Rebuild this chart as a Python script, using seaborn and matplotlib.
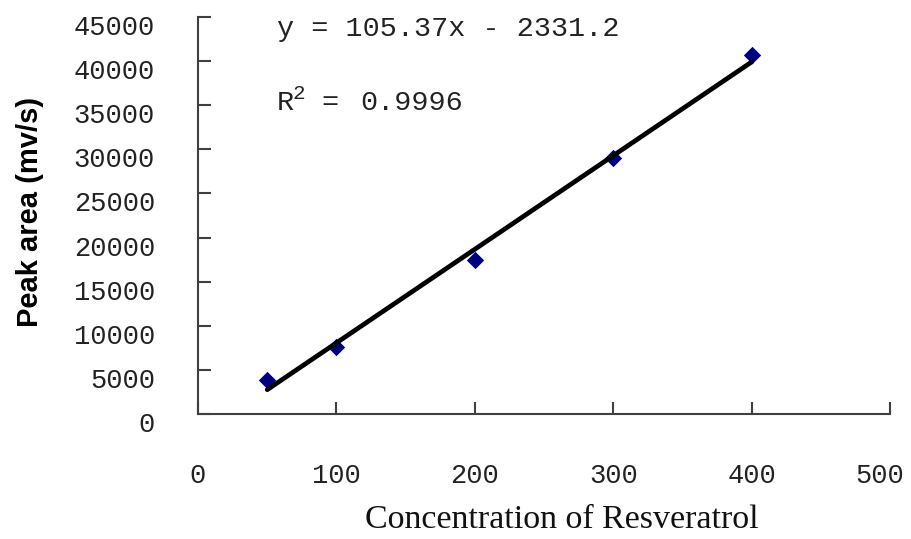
import matplotlib
matplotlib.use("Agg")
import matplotlib.pyplot as plt
import matplotlib.transforms as mtrans
import seaborn as sns
import pandas as pd

# Data
concentration = [50, 100, 200, 300, 400]
peak_area = [3900, 7630, 17460, 28990, 40690]
x_ticks = [0, 100, 200, 300, 400, 500]
y_ticks = [0, 5000, 10000, 15000, 20000, 25000, 30000, 35000, 40000, 45000]
equation_text = "y = 105.37x - 2331.2"
r2_value = "0.9996"

df = pd.DataFrame({"Concentration": concentration, "Peak area": peak_area})

sns.set_style("white")
plt.rcParams["font.family"] = ["Liberation Mono", "DejaVu Sans"]

fig = plt.figure(figsize=(9.12, 5.39), dpi=100)
ax = fig.add_axes([198 / 912, 1 - 414 / 539, (890 - 198) / 912, (414 - 17) / 539])

sns.regplot(data=df, x="Concentration", y="Peak area", ax=ax, ci=None, truncate=True,
            marker="D",
            scatter_kws={"s": 78, "color": "#000080", "linewidths": 0, "alpha": 1, "zorder": 2},
            line_kws={"color": "black", "linewidth": 3.4, "zorder": 3})

ax.set_xlim(0, 500)
ax.set_ylim(0, 45000)
ax.set_xticks(x_ticks)
ax.set_yticks(y_ticks)
ax.set_xticklabels([str(v) for v in x_ticks])
ax.set_yticklabels([str(v) for v in y_ticks])

for s in ["top", "right"]:
    ax.spines[s].set_visible(False)
for s in ["left", "bottom"]:
    ax.spines[s].set_color("#404040")
    ax.spines[s].set_linewidth(1.5)

ax.tick_params(axis="both", direction="in", length=9, width=1.5, color="#404040",
               labelsize=19.5, labelcolor="#222222", bottom=True, left=True)
ax.tick_params(axis="y", pad=31)
ax.tick_params(axis="x", pad=35)

# Slight downward shift of y tick labels as in the original
offset = mtrans.ScaledTranslation(0, -8 / 100, fig.dpi_scale_trans)
for lab in ax.get_yticklabels():
    lab.set_transform(lab.get_transform() + offset)
# last x label sits a little left of its tick in the original
xlabs = ax.get_xticklabels()
xlabs[-1].set_transform(xlabs[-1].get_transform() +
                        mtrans.ScaledTranslation(-10 / 100, 0, fig.dpi_scale_trans))

ax.set_xlabel("Concentration of Resveratrol", fontsize=24.5, family="Liberation Serif",
              color="#111111")
ax.xaxis.set_label_coords((562 - 198) / 692, (414 - 505) / 397)
ax.set_ylabel("Peak area (mv/s)", fontsize=21, family="Liberation Sans",
              fontweight="bold", color="black")
ax.yaxis.set_label_coords((44 - 198) / 692, (414 - 212) / 397)

# Trendline annotation
ax.text(57, 43640, equation_text, fontsize=20.5, va="center", ha="left", color="#222222")
ax.text(57, 35250, "R", fontsize=20.5, va="center", ha="left", color="#222222")
ax.text(68.5, 36300, "2", fontsize=15, va="center", ha="left", color="#222222")
ax.text(89, 35250, "=", fontsize=20.5, va="center", ha="left", color="#222222")
ax.text(117, 35250, r2_value, fontsize=20.5, va="center", ha="left", color="#222222")

fig.savefig("out.png", dpi=100)
